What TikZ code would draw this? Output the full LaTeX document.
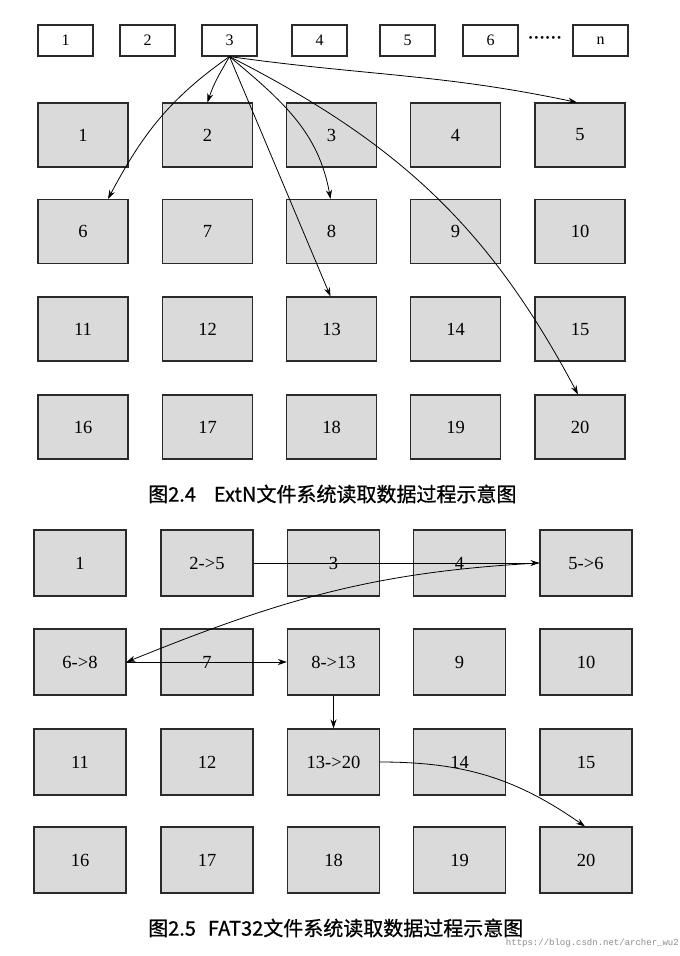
\documentclass[tikz,border=0pt]{standalone}
\usepackage{fontspec}
\setmainfont{Liberation Serif}
\newfontfamily\cjkfont[FakeBold=0.8]{Noto Sans CJK SC}
\newfontfamily\wmfont{Liberation Mono}
\usetikzlibrary{arrows.meta}
\definecolor{boxgray}{HTML}{DADADA}
\definecolor{edgegray}{HTML}{2A2A2A}
\begin{document}
\begin{tikzpicture}[x=1pt,y=-1pt,
  tbox/.style={draw=edgegray, line width=1.1pt, fill=white, minimum width=55pt, minimum height=31pt, inner sep=0pt, font=\fontsize{16}{16}\selectfont},
  cellA/.style={draw=edgegray, line width=1.1pt, fill=boxgray, minimum width=90pt, minimum height=64pt, inner sep=0pt, font=\fontsize{18.5}{18.5}\selectfont},
  cellB/.style={draw=edgegray, line width=1.1pt, fill=boxgray, minimum width=92pt, minimum height=66pt, inner sep=0pt, font=\fontsize{18.5}{18.5}\selectfont},
  arr/.style={-{Stealth[length=9pt,width=6pt]}, line width=0.8pt, draw=black},
  captext/.style={anchor=west, inner sep=0pt, font=\cjkfont\fontsize{20}{20}\selectfont},
]
\useasboundingbox (0,0) rectangle (680,956);
\fill[white] (0,0) rectangle (680,956);

% ---------- top row ----------
\node[tbox] (t1) at (65.5,40.5) {1};
\node[tbox] (t2) at (147.5,40.5) {2};
\node[tbox] (t3) at (229.5,40.5) {3};
\node[tbox] (t4) at (319.5,40.5) {4};
\node[tbox] (t5) at (407.5,40.5) {5};
\node[tbox] (t6) at (490.5,40.5) {6};
\node[inner sep=0pt, font=\fontsize{17}{17}\selectfont\bfseries] (tdots) at (545,40) {······};
\node[tbox] (tn) at (600.5,40.5) {n};

% ---------- grid ExtN ----------
\foreach \r/\y in {0/135,1/231.5,2/329,3/427}{
  \foreach \c/\x in {1/83,2/207.5,3/331.5,4/455.5,5/580}{
    \pgfmathtruncatemacro{\k}{\r*5+\c}
    \node[cellA] (a\k) at (\x,\y) {\k};
  }
}

% arrows from block 3
\draw[arr] (t3.south) to[out=-120,in=72] (a2.north);
\draw[arr] (t3.south) to[out=-145,in=62] ([xshift=25pt]a6.north);
\draw[arr] (t3.south) -- ([xshift=-1pt]a13.north);
\draw[arr] (t3.south) to[out=-40,in=100] ([xshift=-1pt]a8.north);
\draw[arr] (t3.south) to[out=-27,in=118] ([xshift=-2pt]a20.north);
\draw[arr] (t3.south) to[out=-8,in=168] ([xshift=-3pt]a5.north);

\node[captext] (cap1) at (148,494) {图2.4\hspace{0.9em}ExtN文件系统读取数据过程示意图};

% ---------- grid FAT32 ----------
\node[cellB] (b1)  at (80,563)    {1};
\node[cellB] (b2)  at (207,563)   {2->5};
\node[cellB] (b3)  at (333.5,563) {3};
\node[cellB] (b4)  at (459.5,563) {4};
\node[cellB] (b5)  at (586,563)   {5->6};
\node[cellB] (b6)  at (80,662)    {6->8};
\node[cellB] (b7)  at (207,662)   {7};
\node[cellB] (b8)  at (333.5,662) {8->13};
\node[cellB] (b9)  at (459.5,662) {9};
\node[cellB] (b10) at (586,662)   {10};
\node[cellB] (b11) at (80,762)    {11};
\node[cellB] (b12) at (207,762)   {12};
\node[cellB] (b13) at (333.5,762) {13->20};
\node[cellB] (b14) at (459.5,762) {14};
\node[cellB] (b15) at (586,762)   {15};
\node[cellB] (b16) at (80,860)    {16};
\node[cellB] (b17) at (207,860)   {17};
\node[cellB] (b18) at (333.5,860) {18};
\node[cellB] (b19) at (459.5,860) {19};
\node[cellB] (b20) at (586,860)   {20};

\draw[arr] (b2.east) -- (b5.west);
\draw[arr] (b5.west) to[out=183,in=22] (b6.east);
\draw[arr] (b6.east) -- (b8.west);
\draw[arr] (b8.south) -- (b13.north);
\draw[arr] (b13.east) to[out=0,in=145] ([xshift=-1pt]b20.north);

\node[captext] (cap2) at (148,928) {图2.5\hspace{0.6em}FAT32文件系统读取数据过程示意图};

\node[anchor=east, inner sep=0pt, text=black!45, font=\wmfont\fontsize{9}{9}\selectfont] (wm) at (679,943) {https://blog.csdn.net/archer\_wu2};
\end{tikzpicture}
\end{document}
